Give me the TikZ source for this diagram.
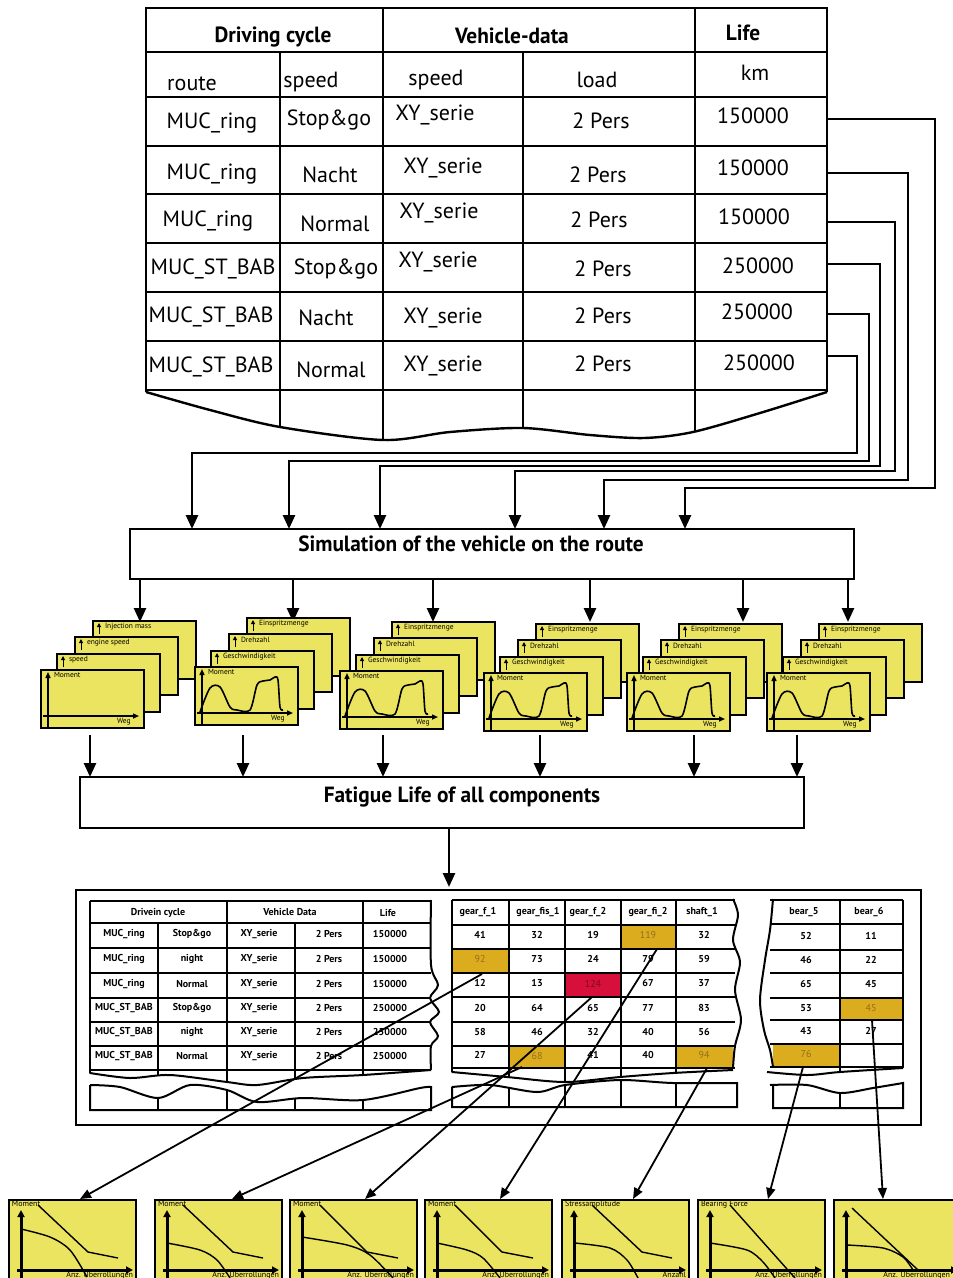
\documentclass[tikz,border=0pt]{standalone}
\usepackage{fontspec}
\setmainfont{PT Sans}
\newfontfamily\hfont{PT Sans}[FakeStretch=0.97]
\usetikzlibrary{arrows.meta}
\definecolor{cardyellow}{RGB}{234,228,96}
\definecolor{cellgold}{RGB}{218,172,30}
\definecolor{cellred}{RGB}{214,16,58}
\definecolor{goldtext}{RGB}{150,110,30}
\definecolor{redtext}{RGB}{120,10,30}
\tikzset{
  every node/.style={inner sep=0pt, outer sep=0pt},
  tt/.style={font=\fontsize{22}{22}\selectfont},
  th/.style={font=\hfont\bfseries\fontsize{22}{22}\selectfont},
  bigbox/.style={draw, line width=2.6pt, anchor=north west},
  boxtxt/.style={font=\hfont\bfseries\fontsize{22}{22}\selectfont},
  arr/.style={line width=2.6pt, -{Triangle[length=14pt,width=12pt]}},
  thinarr/.style={line width=1.8pt, -{Triangle[length=11pt,width=9pt]}},
  tgrid/.style={line width=2.4pt},
  card/.style={draw, line width=1.8pt, fill=cardyellow, anchor=north west, minimum width=103pt, minimum height=58pt},
  bcard/.style={draw, line width=1.8pt, fill=cardyellow, anchor=north west, minimum width=127pt, minimum height=100pt},
  axs/.style={line width=1pt, -{Triangle[length=4pt,width=4pt]}},
  faxs/.style={line width=1.4pt, -{Triangle[length=6pt,width=5pt]}},
  baxs/.style={line width=3pt, -{Triangle[length=7pt,width=7pt]}},
  clab/.style={font=\fontsize{7.5}{7.5}\selectfont, anchor=west},
  blab/.style={font=\fontsize{8}{8}\selectfont},
  stxt/.style={font=\bfseries\fontsize{10}{10}\selectfont},
  sgrid/.style={line width=2pt},
}
\newcommand\drawstack[7]{%
\begin{scope}[shift={(#2,#3)}]
 \node[card] (k#1a) at (52,-49) {};
 \draw[axs] (58,-36) -- (58,-47);
 \node[clab] (k#1la) at (64,-43) {#4};
 \node[card] (k#1b) at (34,-33) {};
 \draw[axs] (40,-20) -- (40,-31);
 \node[clab] (k#1lb) at (46,-27) {#5};
 \node[card] (k#1c) at (16,-16) {};
 \draw[axs] (22,-3) -- (22,-14);
 \node[clab] (k#1lc) at (28,-10) {#6};
 \node[card] (k#1d) at (0,0) {};
 \draw[faxs] (7,57) -- (7,2);
 \draw[faxs] (2,46) -- (98,46);
 \node[clab] (k#1ld) at (13,5) {Moment};
 \node[clab] (k#1w) at (76,52) {Weg};
 \ifnum#7=1
 \draw[line width=1.6pt] plot[smooth, tension=0.5] coordinates {(5,45) (15,21) (25,20) (35,40) (42,43) (55,43) (62,18) (68,14) (75,13) (80,10) (83,13) (85,40) (88,43)};
 \fi
\end{scope}}
\newcommand\drawbcard[7]{%
\begin{scope}[shift={(#2,1200)}]
 \node[bcard] (b#1) at (0,0) {};
 \draw[baxs] (12,78) -- (12,10);
 \draw[baxs] (8,70) -- (124,70);
 \node[blab, anchor=west] (b#1t) at (3,4) {#3};
 \node[blab, anchor=east] (b#1b) at (#7,75) {#4};
 \draw[line width=1.4pt] plot coordinates {#5};
 \draw[line width=1.4pt] plot[smooth] coordinates {#6};
\end{scope}}
\begin{document}
\begin{tikzpicture}[x=1pt,y=-1pt]
\useasboundingbox (0,0) rectangle (953,1278);
\fill[white] (0,0) rectangle (953,1278);

% ---------------- top table ----------------
\begin{scope}
 \clip (140,0) -- (835,0) -- (835,392) -- plot[smooth] coordinates {(827,392) (760,413) (693,432) (644,438) (590,435) (523,428) (450,432) (383,440) (280,427) (210,410) (146,392)} -- (140,392) -- cycle;
 \foreach \x/\y in {280/52, 383/8, 523/52, 695/8} \draw[tgrid] (\x,\y) -- (\x,450);
\end{scope}
\draw[tgrid] (146,392) -- (146,8) -- (827,8) -- (827,392);
\foreach \y in {52,97,146,194,243,292,341,390} \draw[tgrid] (146,\y) -- (827,\y);
\draw[tgrid] plot[smooth] coordinates {(146,392) (210,410) (280,427) (383,440) (450,432) (523,428) (590,435) (644,438) (693,432) (760,413) (827,392)};

\node[th] (hdc) at (273,37) {Driving cycle};
\node[th] (hvd) at (512,36) {Vehicle-data};
\node[th] (hlf) at (743,33) {Life};
\node[tt] (sroute) at (192,84) {route};
\node[tt] (sspd1) at (311,82) {speed};
\node[tt] (sspd2) at (436,80) {speed};
\node[tt] (sload) at (597,80) {load};
\node[tt] (skm) at (755,73) {km};

\node[tt] (r1a) at (212,123) {MUC\_ring};
\node[tt] (r1b) at (329,120) {Stop\&go};
\node[tt] (r1c) at (435,115) {XY\_serie};
\node[tt] (r1d) at (601,121) {2 Pers};
\node[tt] (r1e) at (753,116) {150000};

\node[tt] (r2a) at (212,174) {MUC\_ring};
\node[tt] (r2b) at (330,175) {Nacht};
\node[tt] (r2c) at (443,168) {XY\_serie};
\node[tt] (r2d) at (598,175) {2 Pers};
\node[tt] (r2e) at (753,168) {150000};

\node[tt] (r3a) at (208,221) {MUC\_ring};
\node[tt] (r3b) at (335,224) {Normal};
\node[tt] (r3c) at (439,213) {XY\_serie};
\node[tt] (r3d) at (599,220) {2 Pers};
\node[tt] (r3e) at (754,217) {150000};

\node[tt] (r4a) at (213,269) {MUC\_ST\_BAB};
\node[tt] (r4b) at (336,269) {Stop\&go};
\node[tt] (r4c) at (438,262) {XY\_serie};
\node[tt] (r4d) at (603,269) {2 Pers};
\node[tt] (r4e) at (758,266) {250000};

\node[tt] (r5a) at (211,317) {MUC\_ST\_BAB};
\node[tt] (r5b) at (326,318) {Nacht};
\node[tt] (r5c) at (443,318) {XY\_serie};
\node[tt] (r5d) at (603,316) {2 Pers};
\node[tt] (r5e) at (757,312) {250000};

\node[tt] (r6a) at (211,367) {MUC\_ST\_BAB};
\node[tt] (r6b) at (331,370) {Normal};
\node[tt] (r6c) at (443,366) {XY\_serie};
\node[tt] (r6d) at (603,364) {2 Pers};
\node[tt] (r6e) at (759,363) {250000};

% ---------------- simulation box ----------------
\node[bigbox, minimum width=724pt, minimum height=50pt] (sim) at (130,529) {};
\node[boxtxt] (simt) at (471,544) {Simulation of the vehicle on the route};

\foreach \i/\y/\xv/\yh/\xa in {1/119/935/488/685, 2/173/908/480/604, 3/222/895/471/515, 4/264/880/466/380, 5/314/869/461/289, 6/356/857/453/192} {
  \coordinate (out\i) at (827,\y);
  \coordinate (in\i) at (\xa,529);
  \draw[arr] (out\i) -- (\xv,\y) -- (\xv,\yh) -- (\xa,\yh) -- (in\i);
}

\foreach \i/\x in {1/140,2/293,3/433,4/590,5/743,6/848} {
  \coordinate (so\i) at (\x,579);
  \coordinate (sn\i) at (\x,622);
  \draw[arr] (so\i) -- (sn\i);
}

% ---------------- stacks ----------------
\drawstack{1}{41}{670}{Injection mass}{engine speed}{speed}{0}
\drawstack{2}{195}{667}{Einspritzmenge}{Drehzahl}{Geschwindigkeit}{1}
\drawstack{3}{340}{671}{Einspritzmenge}{Drehzahl}{Geschwindigkeit}{1}
\drawstack{4}{484}{673}{Einspritzmenge}{Drehzahl}{Geschwindigkeit}{1}
\drawstack{5}{627}{673}{Einspritzmenge}{Drehzahl}{Geschwindigkeit}{1}
\drawstack{6}{767}{673}{Einspritzmenge}{Drehzahl}{Geschwindigkeit}{1}

% ---------------- fatigue box ----------------
\node[bigbox, minimum width=724pt, minimum height=51pt] (fat) at (80,777) {};
\node[boxtxt] (fatt) at (462,797) {Fatigue Life of all components};
\foreach \i/\x in {1/90,2/243,3/383,4/540,5/694,6/797} {
  \coordinate (fo\i) at (\x,735);
  \coordinate (fi\i) at (\x,777);
  \draw[arr] (fo\i) -- (fi\i);
}
\coordinate (fatb) at (449,828);
\coordinate (rest) at (449,887);
\draw[arr] (fatb) -- (rest);

% ---------------- result container ----------------
\node[draw, line width=2.4pt, anchor=north west, minimum width=845pt, minimum height=235pt] (res) at (76,890) {};

% --- sub table 1 ---
\foreach \x/\y in {90/901, 158/923, 227/901, 295/923, 363/901} \draw[sgrid] (\x,\y) -- (\x,1110);
\foreach \y in {901,923,948,973,998,1022,1046,1070} \draw[sgrid] (90,\y) -- (431,\y);
\draw[sgrid] plot[smooth] coordinates {(431,900) (431,965) (438,985) (430,998) (439,1012) (430,1022) (438,1036) (431,1046) (431,1070)};
\fill[white] plot[smooth] coordinates {(86,1073) (130,1078) (170,1075) (227,1082) (257,1085) (303,1078) (363,1075) (431,1070) (436,1070)} -- plot[smooth] coordinates {(436,1087) (420,1088) (363,1100) (303,1098) (257,1102) (227,1090) (190,1085) (158,1098) (120,1087) (86,1085)} -- cycle;
\draw[sgrid] plot[smooth] coordinates {(90,1073) (130,1078) (170,1075) (227,1082) (257,1085) (303,1078) (363,1075) (431,1070)};
\draw[sgrid] plot[smooth] coordinates {(90,1085) (120,1087) (158,1098) (190,1085) (227,1090) (257,1102) (303,1098) (363,1100) (420,1088) (431,1087)} -- (431,1110) -- (90,1110) -- (90,1085);
\node[stxt] (t1h1) at (158,913) {Drivein cycle};
\node[stxt] (t1h2) at (290,912) {Vehicle Data};
\node[stxt] (t1h3) at (388,913) {Life};
\foreach \r/\y/\a/\b/\c/\d/\e in {1/934/MUC\_ring/Stop\&go/XY\_serie/2 Pers/150000,
  2/959/MUC\_ring/night/XY\_serie/2 Pers/150000,
  3/984/MUC\_ring/Normal/XY\_serie/2 Pers/150000,
  4/1008/MUC\_ST\_BAB/Stop\&go/XY\_serie/2 Pers/250000,
  5/1032/MUC\_ST\_BAB/night/XY\_serie/2 Pers/250000,
  6/1056/MUC\_ST\_BAB/Normal/XY\_serie/2 Pers/250000} {
  \node[stxt] (t1r\r a) at (124,\y) {\a};
  \node[stxt] (t1r\r b) at (192,\y) {\b};
  \node[stxt] (t1r\r c) at (259,\y) {\c};
  \node[stxt] (t1r\r d) at (329,\y) {\d};
  \node[stxt] (t1r\r e) at (390,\y) {\e};
}

% --- sub table 2 ---
\fill[cellgold] (452,949) rectangle (509,973);
\fill[cellgold] (621,925) rectangle (676,949);
\fill[cellred] (565,973) rectangle (621,997);
\fill[cellgold] (509,1046) rectangle (565,1068);
\fill[cellgold] (676,1046) rectangle (733,1068);
\foreach \x in {452,509,565,621,676} \draw[sgrid] (\x,900) -- (\x,1107);
\foreach \y in {900,925,949,973,997,1022,1046,1068} \draw[sgrid] (452,\y) -- (735,\y);
\draw[sgrid] plot[smooth] coordinates {(733,899) (738,915) (733,940) (740,962) (735,990) (741,1020) (735,1046) (733,1068)};
\fill[white] plot[smooth] coordinates {(448,1072) (507,1077) (565,1082) (620,1077) (673,1073) (733,1070) (742,1070)} -- plot[smooth] coordinates {(742,1083) (737,1083) (673,1083) (620,1080) (565,1085) (537,1092) (490,1085) (448,1087)} -- cycle;
\draw[sgrid] plot[smooth] coordinates {(452,1072) (507,1077) (565,1082) (620,1077) (673,1073) (733,1070)};
\draw[sgrid] plot[smooth] coordinates {(452,1087) (490,1085) (537,1092) (565,1085) (620,1080) (673,1083) (737,1083)} -- (737,1107) -- (452,1107) -- (452,1087);
\foreach \i/\x/\t in {1/478/gear\_f\_1, 2/538/gear\_fis\_1, 3/588/gear\_f\_2, 4/648/gear\_fi\_2, 5/702/shaft\_1}
  \node[stxt] (t2h\i) at (\x,912) {\t};
\foreach \r/\y/\a/\b/\c/\d/\e in {1/935/41/32/19/119/32, 2/959/92/73/24/79/59, 3/983/12/13/124/67/37, 4/1008/20/64/65/77/83, 5/1032/58/46/32/40/56, 6/1055/27/68/41/40/94} {
  \node[stxt] (t2r\r a) at (480,\y) {\a};
  \node[stxt] (t2r\r b) at (537,\y) {\b};
  \node[stxt] (t2r\r c) at (593,\y) {\c};
  \node[stxt] (t2r\r d) at (648,\y) {\d};
  \node[stxt] (t2r\r e) at (704,\y) {\e};
}
% recolour highlighted values
\fill[cellgold] (453,950) rectangle (508,972);
\node[font=\fontsize{10}{10}\selectfont, text=goldtext] (v92) at (480,959) {92};
\fill[cellgold] (622,926) rectangle (675,948);
\node[font=\fontsize{10}{10}\selectfont, text=goldtext] (v119) at (648,935) {119};
\fill[cellred] (566,974) rectangle (620,996);
\node[font=\fontsize{10}{10}\selectfont, text=redtext] (v124) at (593,984) {124};
\fill[cellgold] (510,1047) rectangle (564,1067);
\node[font=\fontsize{10}{10}\selectfont, text=goldtext] (v68) at (537,1056) {68};
\fill[cellgold] (677,1047) rectangle (732,1067);
\node[font=\fontsize{10}{10}\selectfont, text=goldtext] (v94) at (704,1055) {94};

% --- sub table 3 ---
\fill[cellgold] (840,998) rectangle (903,1020);
\fill[cellgold] (773,1044) rectangle (840,1067);
\foreach \x in {840,903} \draw[sgrid] (\x,900) -- (\x,1108);
\foreach \y in {900,924,950,973,998,1020,1044,1067} \draw[sgrid] (770,\y) -- (903,\y);
\draw[sgrid] plot[smooth] coordinates {(773,899) (770,930) (765,960) (760,1000) (764,1030) (770,1050) (773,1067)};
\fill[white] plot[smooth] coordinates {(762,1072) (807,1075) (840,1072) (903,1068) (907,1068)} -- plot[smooth] coordinates {(907,1083) (903,1083) (873,1088) (840,1093) (807,1085) (762,1085)} -- cycle;
\draw[sgrid] plot[smooth] coordinates {(767,1072) (807,1075) (840,1072) (903,1068)};
\draw[sgrid] plot[smooth] coordinates {(770,1085) (807,1085) (840,1093) (873,1088) (903,1083)} -- (903,1108) -- (773,1108) -- (773,1085);
\node[stxt] (t3h1) at (804,912) {bear\_5};
\node[stxt] (t3h2) at (869,912) {bear\_6};
\foreach \r/\y/\a/\b in {1/936/52/11, 2/960/46/22, 3/984/65/45, 5/1031/43/27} {
  \node[stxt] (t3r\r a) at (806,\y) {\a};
  \node[stxt] (t3r\r b) at (871,\y) {\b};
}
\node[stxt] (t3r4a) at (806,1008) {53};
\node[font=\fontsize{10}{10}\selectfont, text=goldtext] (v45) at (871,1008) {45};
\node[font=\fontsize{10}{10}\selectfont, text=goldtext] (v76) at (806,1054) {76};

% ---------------- bottom charts ----------------
\drawbcard{1}{9}{Moment}{Anz. Überrollungen}{(29,5) (79,52) (109,58)}{(12,29) (41,37) (61,50) (78,77)}{124}
\drawbcard{2}{155}{Moment}{Anz. Überrollungen}{(28,5) (78,52) (108,58)}{(12,43) (45,50) (62,60) (75,78)}{124}
\drawbcard{3}{290}{Moment}{Anz. Überrollungen}{(30,5) (77,52) (108,58)}{(12,37) (57,45) (80,55) (103,78)}{124}
\drawbcard{4}{425}{Moment}{Anz. Überrollungen}{(30,5) (77,52) (108,58)}{(12,43) (42,50) (58,58) (75,78)}{124}
\drawbcard{5}{562}{Stressamplitude}{Anzahl}{(30,5) (80,52) (110,58)}{(13,43) (48,48) (65,60) (76,78)}{124}
\drawbcard{6}{698}{Bearing Force}{Anz. Überrollungen}{(32,5) (97,78)}{(12,43) (49,50) (65,62) (77,78)}{124}
\drawbcard{7}{834}{}{Anz. Überrollungen}{(18,8) (84,70)}{(13,45) (49,48) (69,57) (79,70)}{116}

% ---------------- cell -> chart connectors ----------------
\coordinate (c92) at (482,974);
\coordinate (c68) at (522,1067);
\coordinate (c124) at (592,997);
\coordinate (c119) at (657,949);
\coordinate (c94) at (707,1068);
\coordinate (c76) at (803,1067);
\coordinate (c45) at (872,1020);
\coordinate (d1) at (80,1199);
\coordinate (d2) at (232,1199);
\coordinate (d3) at (365,1199);
\coordinate (d4) at (500,1199);
\coordinate (d5) at (633,1199);
\coordinate (d6) at (768,1199);
\coordinate (d7) at (883,1199);
\draw[thinarr] (c92) -- (d1);
\draw[thinarr] (c68) -- (d2);
\draw[thinarr] (c124) -- (d3);
\draw[thinarr] (c119) -- (d4);
\draw[thinarr] (c94) -- (d5);
\draw[thinarr] (c76) -- (d6);
\draw[thinarr] (c45) -- (d7);
\end{tikzpicture}
\end{document}
